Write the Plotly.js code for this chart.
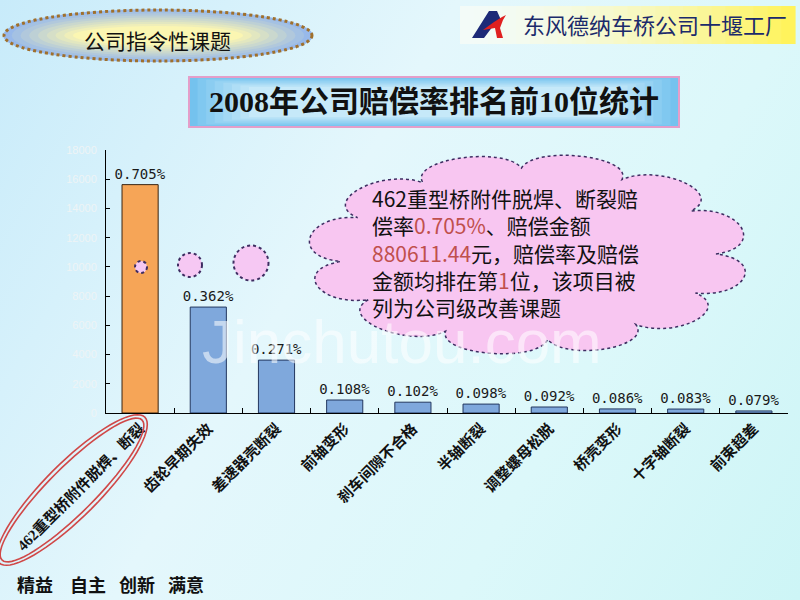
<!DOCTYPE html>
<html><head><meta charset="utf-8">
<script src="https://cdn.plot.ly/plotly-3.0.1.min.js"></script>
<style>
html,body{margin:0;padding:0;}
body{width:800px;height:600px;overflow:hidden;background:linear-gradient(120deg,#c8ebfa 0%,#e4f7fc 40%,#dcf8fa 70%,#cdf5f6 100%);}
#chart{width:800px;height:600px;}
</style></head><body><div id="chart"></div>
<script>
// ---- data ----
const categories = ['462重型桥附件脱焊、断裂','齿轮早期失效','差速器壳断裂','前轴变形','刹车间隙不合格','半轴断裂','调整螺母松脱','桥壳变形','十字轴断裂','前束超差'];
const values = [15630, 7250, 3620, 890, 740, 610, 410, 280, 270, 140];
const rateLabels = ['0.705%','0.362%','0.271%','0.108%','0.102%','0.098%','0.092%','0.086%','0.083%','0.079%'];
const yTickVals = [0,2000,4000,6000,8000,10000,12000,14000,16000,18000];
const barColors = ['#f6a557','#7fa8dc','#7fa8dc','#7fa8dc','#7fa8dc','#7fa8dc','#7fa8dc','#7fa8dc','#7fa8dc','#7fa8dc'];
const noteLines = [
  '462重型桥附件脱焊、断裂赔',
  '偿率<span style="color:#c0504d">0.705%</span>、赔偿金额',
  '<span style="color:#c0504d">880611.44</span>元，赔偿率及赔偿',
  '金额均排在第<span style="color:#c0504d">1</span>位，该项目被',
  '列为公司级改善课题'
];
const footerWords = ['精益','自主','创新','满意'];

// ---- helpers (pixel -> paper) ----
const W=800,H=600;
const fx = x => x/W, fy = y => 1 - y/H;
function hex2rgb(h){h=h.replace('#','');return [0,2,4].map(i=>parseInt(h.substr(i,2),16));}
function mix(a,b,t){const A=hex2rgb(a),B=hex2rgb(b);return 'rgb('+A.map((v,i)=>Math.round(v+(B[i]-v)*t)).join(',')+')';}
function pathOf(pts){return 'M '+pts.map(p=>fx(p[0]).toFixed(5)+','+fy(p[1]).toFixed(5)).join(' L ')+' Z';}
const shapes=[];
function gradBox(type,x0,y0,x1,y1,cOut,cIn,n,ix,iy){
  for(let i=0;i<n;i++){const t=i/(n-1);
    shapes.push({type:type,xref:'paper',yref:'paper',x0:fx(x0+ix*t),x1:fx(x1-ix*t),y0:fy(y1-iy*t),y1:fy(y0+iy*t),
      fillcolor:mix(cOut,cIn,t),line:{width:0},layer:'below'});}
}
// top-left badge
gradBox('circle',3,9,313,62,'#98b9ea','#fbf6b2',9,70,17);
shapes.push({type:'circle',xref:'paper',yref:'paper',x0:fx(4),x1:fx(312),y0:fy(61),y1:fy(10),line:{color:'#a0702c',width:3,dash:'dot'},layer:'below'});
// top-right logo band
for(let i=0;i<24;i++){const t=i/23;const x0=460+i*(335/24);
  shapes.push({type:'rect',xref:'paper',yref:'paper',x0:fx(x0),x1:fx(x0+335/24+0.6),y0:fy(44),y1:fy(6),fillcolor:mix('#f3fbf8','#fff35c',Math.pow(t,1.6)),line:{width:0},layer:'below'});}
// logo icon
shapes.push({type:'path',xref:'paper',yref:'paper',path:pathOf([[472,38],[489,11],[497,11],[501,20],[493,26],[484,38]]),fillcolor:'#1c2a78',line:{width:0}});
shapes.push({type:'path',xref:'paper',yref:'paper',path:pathOf([[483,30],[494,22],[502,17],[506,15],[503,20],[500,28],[503,38],[497,38],[495,28],[489,29]]),fillcolor:'#e02020',line:{width:0}});
// title box
gradBox('rect',189,77,679,127,'#74c2ee','#c6e9f9',8,60,10);
shapes.push({type:'rect',xref:'paper',yref:'paper',x0:fx(189),x1:fx(679),y0:fy(127),y1:fy(77),line:{color:'#e49ec9',width:2}});
// cloud callout
(function(){
  const cx=528,cy=254,rx=188,ry=86,k=1.27;
  const ang=[0,30,60,92,124,155,185,212,244,276,305,333,360];
  const E=(d,s)=>{const r=d*Math.PI/180;return [cx+rx*s*Math.cos(r), cy-ry*s*Math.sin(r)];};
  let p='';
  for(let i=0;i<ang.length-1;i++){
    const a=ang[i],b=ang[i+1],d=b-a;
    const P0=E(a,1),C1=E(a+0.12*d,k),C2=E(b-0.12*d,k),P3=E(b,1);
    const f=q=>fx(q[0]).toFixed(5)+','+fy(q[1]).toFixed(5);
    if(i===0)p+='M '+f(P0)+' ';
    p+='C '+f(C1)+' '+f(C2)+' '+f(P3)+' ';
  }
  p+='Z';
  shapes.push({type:'path',xref:'paper',yref:'paper',path:p,fillcolor:'#f8c6f1',line:{color:'#3e2d62',width:1.5,dash:'dot'}});
})();
// thought bubbles
[[141,267,6],[190,265,12],[251,263,17.5]].forEach(c=>{
  shapes.push({type:'circle',xref:'paper',yref:'paper',x0:fx(c[0]-c[2]),x1:fx(c[0]+c[2]),y0:fy(c[1]+c[2]),y1:fy(c[1]-c[2]),fillcolor:'#f6c8f3',line:{color:'#3e2d62',width:2,dash:'dot'}});
});
// red double ellipse around first category label
function rotEllipse(cx,cy,a,b,deg){const r=deg*Math.PI/180,pts=[];for(let i=0;i<72;i++){const t=i/72*2*Math.PI;const x=a*Math.cos(t),y=b*Math.sin(t);pts.push([cx+x*Math.cos(r)-y*Math.sin(r),cy-(x*Math.sin(r)+y*Math.cos(r))]);}return pathOf(pts);}
shapes.push({type:'path',xref:'paper',yref:'paper',path:rotEllipse(72,490,103,27,45),line:{color:'#d04848',width:1.6}});
shapes.push({type:'path',xref:'paper',yref:'paper',path:rotEllipse(72,490,99,23,45),line:{color:'#d04848',width:1.6}});

// ---- annotations ----
const ann=[];
const A=(o)=>Object.assign({xref:'paper',yref:'paper',showarrow:false,xanchor:'center',yanchor:'middle'},o);
ann.push(A({x:fx(157),y:fy(40),text:'公司指令性课题',font:{family:'Noto Sans CJK SC',size:21,color:'#111'}}));
ann.push(A({x:fx(521),y:fy(24),xanchor:'left',text:'东风德纳车桥公司十堰工厂',font:{family:'Noto Sans CJK SC',size:22,color:'#1b2a6b'}}));
ann.push(A({x:fx(434),y:fy(101),text:'2008年公司赔偿率排名前10位统计',font:{family:'Liberation Serif, Noto Sans CJK SC',size:30,color:'#111',weight:'bold'}}));
ann.push(A({x:fx(370),y:fy(253),xanchor:'left',align:'left',text:noteLines.join('<br>'),font:{family:'Noto Sans CJK SC',size:21,color:'#111'}}));
const footX=[15,68,117,166];
footerWords.forEach((t,i)=>ann.push(A({x:fx(footX[i]),y:fy(584),xanchor:'left',text:t,font:{family:'Noto Sans CJK SC',size:18,color:'#111',weight:'bold'}})));
ann.push(A({x:fx(402),y:fy(342),text:'Jinchutou.com',font:{family:'Liberation Sans',size:62,color:'rgba(255,255,255,0.55)'}}));

// ---- chart ----
const trace={type:'bar',x:categories,y:values,width:0.53,text:rateLabels,textposition:'outside',constraintext:'none',cliponaxis:false,
  textfont:{family:'DejaVu Sans Mono',size:14,color:'#1a1a1a'},
  marker:{color:barColors,line:{color:['#3a2410','#23375f','#23375f','#23375f','#23375f','#23375f','#23375f','#23375f','#23375f','#23375f'],width:1}},hoverinfo:'skip'};
const layout={width:800,height:600,margin:{l:0,r:0,t:0,b:0},paper_bgcolor:'rgba(0,0,0,0)',plot_bgcolor:'rgba(0,0,0,0)',showlegend:false,
  xaxis:{domain:[106/800,788/800],type:'category',showline:true,linecolor:'#000',linewidth:1,ticks:'inside',ticklen:5,tickcolor:'#000',tickson:'boundaries',
    tickangle:-45,tickfont:{family:'Liberation Serif, Noto Sans CJK SC',size:15,color:'#111',weight:'bold'},showgrid:false,zeroline:false,fixedrange:true},
  yaxis:{domain:[187/600,450/600],range:[0,18000],tickvals:yTickVals,tickformat:'d',showline:true,linecolor:'#000',linewidth:1,ticks:'inside',ticklen:4,tickcolor:'#000',
    tickfont:{family:'Liberation Sans',size:11,color:'#eef4f6'},ticklabelstandoff:6,showgrid:false,zeroline:false,fixedrange:true},
  shapes:shapes,annotations:ann};
Plotly.newPlot('chart',[trace],layout,{displayModeBar:false,staticPlot:true});
</script></body></html>
